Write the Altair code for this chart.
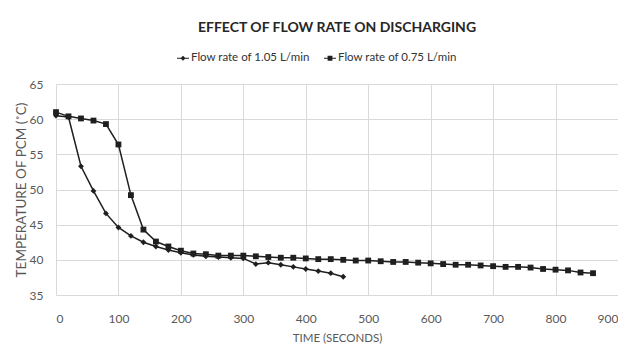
import altair as alt
import pandas as pd

series_names = ["Flow rate of 1.05 L/min", "Flow rate of 0.75 L/min"]

time_105 = list(range(0, 461, 20))
temp_105 = [60.5, 60.3, 53.3, 49.8, 46.6, 44.6, 43.4, 42.5, 41.9, 41.4, 41.0, 40.7,
            40.5, 40.4, 40.3, 40.2, 39.4, 39.6, 39.3, 39.0, 38.7, 38.4, 38.1, 37.6]

time_075 = list(range(0, 861, 20))
temp_075 = [61.0, 60.4, 60.1, 59.8, 59.3, 56.4, 49.2, 44.3, 42.6, 41.9, 41.3, 40.9,
            40.8, 40.6, 40.6, 40.6, 40.5, 40.4, 40.3, 40.3,
            40.2, 40.1, 40.1, 40.0, 39.9, 39.9, 39.8, 39.7, 39.7, 39.6, 39.5, 39.4,
            39.3, 39.3, 39.2, 39.1, 39.0, 39.0, 38.9, 38.7, 38.6, 38.5, 38.2, 38.1]

x_ticks = list(range(0, 901, 100))
y_ticks = list(range(35, 66, 5))

df = pd.concat([
    pd.DataFrame({"t": time_105, "v": temp_105, "series": series_names[0]}),
    pd.DataFrame({"t": time_075, "v": temp_075, "series": series_names[1]}),
])

FONT = "Lato, sans-serif"
INK = "#1f1f1f"

x = alt.X("t:Q", scale=alt.Scale(domain=[0, 900], nice=False),
          axis=alt.Axis(values=x_ticks, title="TIME (SECONDS)", grid=True, domain=False,
                        ticks=False, labelPadding=18, titlePadding=8, titleFontSize=11.5))
y = alt.Y("v:Q", scale=alt.Scale(domain=[35, 65], nice=False, zero=False),
          axis=alt.Axis(values=y_ticks, title="TEMPERATURE OF PCM (˚C)", grid=True,
                        domain=False, ticks=False, labelPadding=13, titlePadding=1,
                        titleFontSize=13.5))

lines = alt.Chart(df).mark_line(color=INK, strokeWidth=1.5).encode(
    x=x, y=y, detail="series:N")

points = alt.Chart(df).mark_point(filled=True, color=INK, opacity=1, size=34).encode(
    x=x, y=y,
    shape=alt.Shape("series:N", scale=alt.Scale(domain=series_names, range=["diamond", "square"]),
                    legend=None))

legend_shapes = [
    "M-1,-0.09H1V0.09H-1ZM0,-0.42L0.42,0L0,0.42L-0.42,0Z",
    "M-1,-0.09H1V0.09H-1ZM-0.4,-0.4H0.4V0.4H-0.4Z",
]
legend_layer = alt.Chart(df).mark_point(filled=True, color=INK, opacity=0).encode(
    x=x, y=y,
    shape=alt.Shape("series2:N", scale=alt.Scale(domain=series_names, range=legend_shapes),
                    legend=alt.Legend(title=None, orient="none", legendX=121, legendY=-32,
                                      direction="horizontal", symbolSize=144,
                                      symbolOpacity=1, symbolFillColor=INK,
                                      symbolStrokeColor=INK, symbolStrokeWidth=0,
                                      labelFont=FONT, labelFontSize=11.5, labelColor="#333333",
                                      columnPadding=14, labelOffset=2))
).transform_calculate(series2="datum.series")

chart = alt.layer(lines, points, legend_layer).resolve_scale(shape="independent").properties(
    width=610, height=344,
    autosize=alt.AutoSizeParams(type="fit", contains="padding"),
    padding={"left": 6, "top": 13, "right": 0, "bottom": 8},
    title=alt.Title("EFFECT OF FLOW RATE ON DISCHARGING", font=FONT, fontSize=14,
                    fontWeight="bold", color="#262626", offset=43),
).configure_axis(
    labelFont=FONT, labelFontSize=12, labelColor="#595959",
    titleFont=FONT, titleFontWeight="normal", titleColor="#595959",
    gridColor="#d9d9d9", gridWidth=1,
).configure_view(stroke=None)

chart.save("out.html", embed_options={"renderer": "svg", "actions": False})
